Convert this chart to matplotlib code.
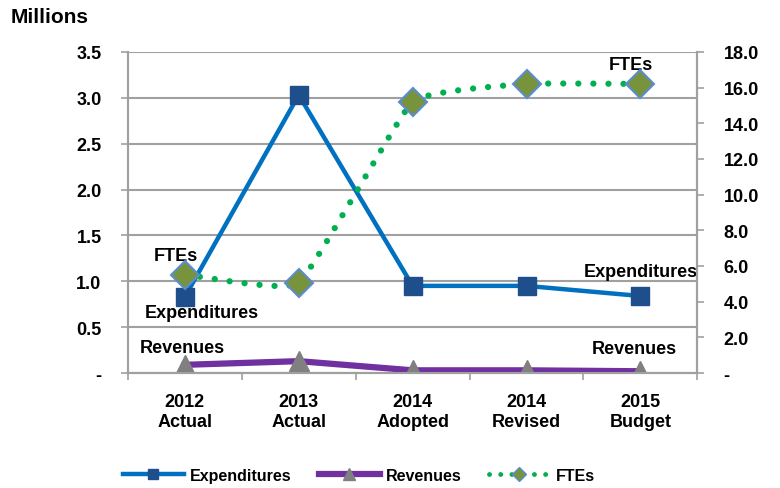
import numpy as np
import matplotlib.pyplot as plt

plt.rcParams['font.family'] = ['Liberation Sans', 'DejaVu Sans']
plt.rcParams['font.weight'] = 'bold'

# ==================== data ====================
categories = ['2012\nActual', '2013\nActual', '2014\nAdopted', '2014\nRevised', '2015\nBudget']
expenditures = [0.83, 3.03, 0.95, 0.95, 0.84]   # millions
revenues = [0.09, 0.13, 0.03, 0.03, 0.02]       # millions
ftes = [5.5, 5.05, 15.2, 16.2, 16.2]


def smooth(xs, ys, n=40, tension=0.35):
    # Hermite smoothing, like Excel's smoothed line
    xs = np.asarray(xs, float)
    ys = np.asarray(ys, float)
    px = np.concatenate([[2 * xs[0] - xs[1]], xs, [2 * xs[-1] - xs[-2]]])
    py = np.concatenate([[ys[0]], ys, [ys[-1]]])
    out_x, out_y = [], []
    t = np.linspace(0, 1, n)
    h00 = 2 * t**3 - 3 * t**2 + 1
    h10 = t**3 - 2 * t**2 + t
    h01 = -2 * t**3 + 3 * t**2
    h11 = t**3 - t**2
    for i in range(1, len(px) - 2):
        for arr, out in ((px, out_x), (py, out_y)):
            p0, p1, p2, p3 = arr[i - 1], arr[i], arr[i + 1], arr[i + 2]
            m1 = (p2 - p0) / 2 * tension
            m2 = (p3 - p1) / 2 * tension
            out.extend(h00 * p1 + h10 * m1 + h01 * p2 + h11 * m2)
    return np.array(out_x), np.array(out_y)


fig = plt.figure(figsize=(7.8, 4.89), dpi=100)
ax = fig.add_axes([0.164, 0.235, 0.730, 0.657])
ax2 = ax.twinx()

x = np.arange(len(categories))
grey = '#A0A0A0'
fs = 13

ax.set_xlim(-0.5, len(categories) - 0.5)
ax.set_ylim(0, 3.5)
ax2.set_ylim(0, 18)

yt = np.arange(0, 3.51, 0.5)
ax.set_yticks(yt)
ax.set_yticklabels(['-'] + [f'{v:.1f}' for v in yt[1:]], fontsize=fs, fontweight='bold')
y2t = np.arange(0, 18.1, 2)
ax2.set_yticks(y2t)
ax2.set_yticklabels(['-'] + [f'{v:.1f}' for v in y2t[1:]], fontsize=fs, fontweight='bold')

ax.set_xticks(x)
ax.set_xticklabels(categories, fontsize=fs, fontweight='bold', linespacing=1.3)
ax.set_xticks(np.arange(-0.5, len(categories), 1), minor=True)
ax.tick_params(axis='x', which='major', length=0, pad=14)
ax.tick_params(axis='x', which='minor', length=5, color=grey, width=1.2)
ax.tick_params(axis='y', length=5, color=grey, width=1.2, pad=14)
ax2.tick_params(axis='y', length=5, color=grey, width=1.2, pad=14)

for a in (ax, ax2):
    a.spines['top'].set_visible(False)
    for s in ('left', 'right', 'bottom'):
        a.spines[s].set_color(grey)
        a.spines[s].set_linewidth(1.5)

ax.grid(axis='y', color=grey, linewidth=1.5)
ax.set_axisbelow(True)

ax.plot(x, expenditures, color='#0070C0', linewidth=3.2, marker='s', markersize=13,
        markerfacecolor='#1F4E8C', markeredgecolor='#1F4E8C', zorder=4, label='Expenditures')
ax.plot(x, revenues, color='#7030A0', linewidth=4.5, marker='^', markersize=14,
        markerfacecolor='#808080', markeredgecolor='#808080', zorder=3, label='Revenues')

sx, sy = smooth(x, ftes)
ax2.plot(sx, sy, color='#00B050', linewidth=4.5, linestyle=(0, (0.01, 2.4)),
         dash_capstyle='round', zorder=3)
ax2.plot(x, ftes, linestyle='none', marker='D', markersize=14,
         markerfacecolor='#77933C', markeredgecolor='#5B8BD0', markeredgewidth=1.5, zorder=5)

# legend handle for FTEs
ax.plot([], [], color='#00B050', linewidth=3.5, linestyle=(0, (0.01, 2.3)),
        dash_capstyle='round', marker='D', markersize=12,
        markerfacecolor='#77933C', markeredgecolor='#5B8BD0', label='FTEs')

ax.legend(loc='upper center', bbox_to_anchor=(0.406, -0.25), ncol=3, frameon=False,
          fontsize=11.5, handlelength=3.8, columnspacing=1.7, handletextpad=0.4,
          markerscale=0.6)

# data labels
tk = dict(fontsize=fs, fontweight='bold')
ax2.text(x[0] - 0.08, ftes[0] + 0.6, 'FTEs', ha='center', va='bottom', **tk)
ax.text(x[0] + 0.15, expenditures[0] - 0.08, 'Expenditures', ha='center', va='top', **tk)
ax.text(x[0] - 0.02, revenues[0] + 0.1, 'Revenues', ha='center', va='bottom', **tk)
ax2.text(x[-1] - 0.08, ftes[-1] + 0.6, 'FTEs', ha='center', va='bottom', **tk)
ax.text(x[-1] + 0.0, expenditures[-1] + 0.17, 'Expenditures', ha='center', va='bottom', **tk)
ax.text(x[-1] - 0.05, revenues[-1] + 0.15, 'Revenues', ha='center', va='bottom', **tk)

fig.text(0.014, 0.965, 'Millions', fontsize=15, fontweight='bold', ha='left', va='center')

fig.savefig('out.png', dpi=100)
